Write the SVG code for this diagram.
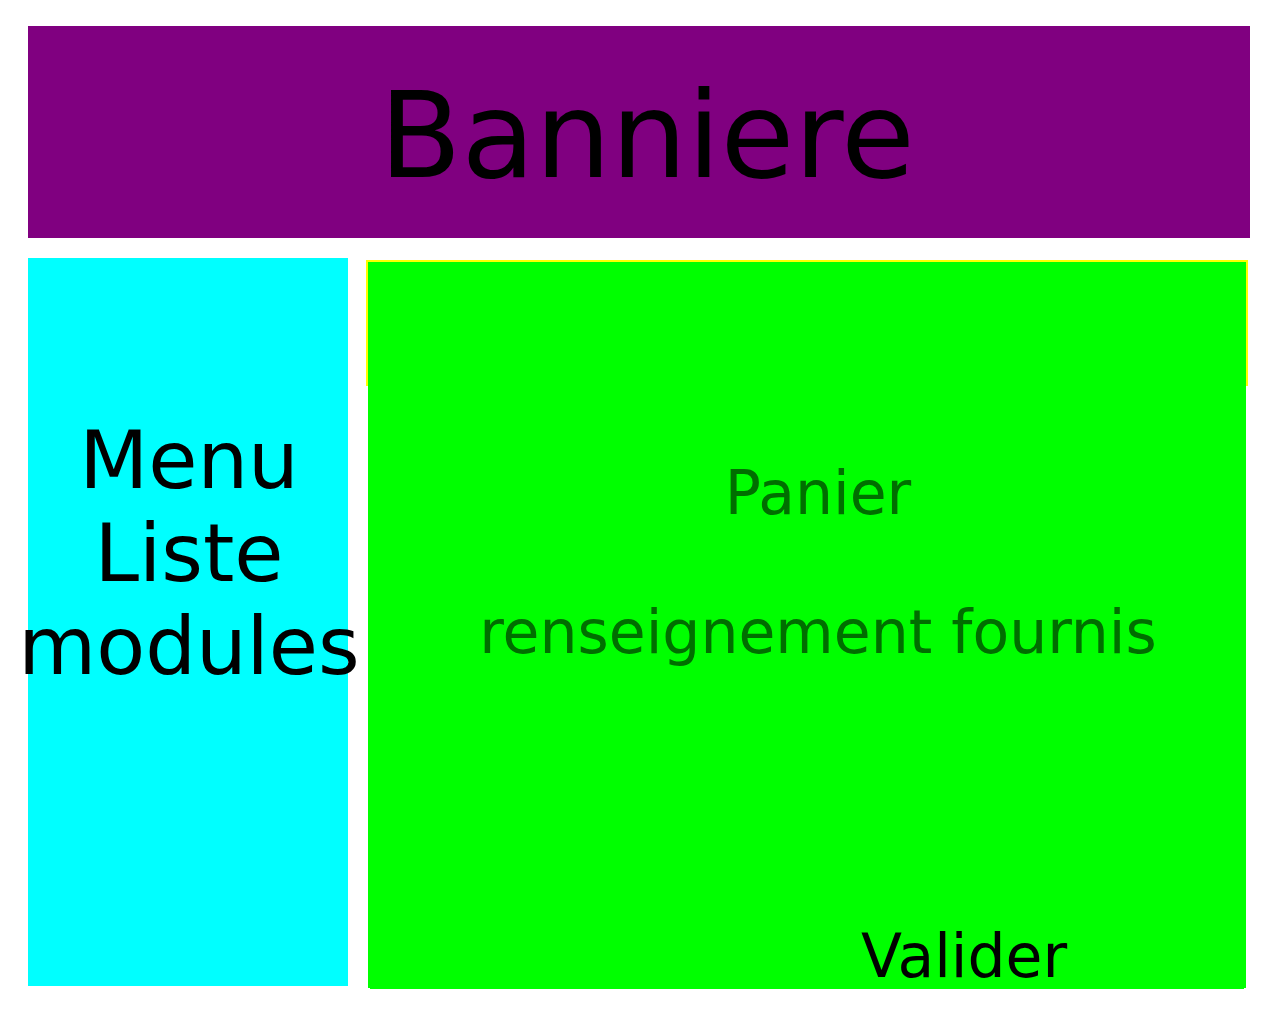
<svg xmlns="http://www.w3.org/2000/svg" width="1280" height="1024" viewBox="0 0 1280 1024">
<style>
text{font-family:"DejaVu Sans","Liberation Sans",sans-serif;}
.big{font-size:120px;fill:#000;text-anchor:middle;}
.menu{font-size:80px;fill:#000;text-anchor:middle;}
.dim{font-size:60px;fill:#006e00;text-anchor:middle;}
</style>
<rect x="0" y="0" width="1280" height="1024" fill="#ffffff"/>
<g id="banniere">
<rect x="28" y="26" width="1222" height="212" fill="#800080"/>
<text class="big" x="647" y="177">Banniere</text>
</g>
<g id="menu">
<rect x="28" y="258" width="320" height="728" fill="#00ffff"/>
<text class="menu" x="189" y="488">Menu</text>
<text class="menu" x="189" y="581">Liste</text>
<text class="menu" x="189" y="674">modules</text>
</g>
<g id="panier">
<rect x="367" y="261" width="880" height="124" fill="#00ff00" stroke="#ffff00" stroke-width="2"/>
<rect x="368" y="262" width="878" height="726" fill="#00ff00"/>
<rect x="370" y="987" width="874" height="2" fill="#00ff00"/>
<text class="dim" x="818" y="514">Panier</text>
<text class="dim" x="818" y="653">renseignement fournis</text>
<text x="861" y="977" font-size="60" fill="#000">Valider</text>
</g>
<g id="connectors"/>
</svg>
